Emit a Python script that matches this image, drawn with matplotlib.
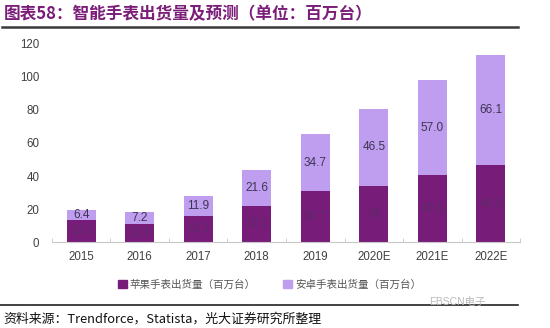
import matplotlib
matplotlib.use("Agg")
import matplotlib.pyplot as plt
from matplotlib.lines import Line2D
from matplotlib.patches import Patch

plt.rcParams['font.family'] = ['Liberation Sans', 'Noto Sans CJK SC', 'DejaVu Sans']

years = ["2015", "2016", "2017", "2018", "2019", "2020E", "2021E", "2022E"]
apple = [13.3, 11.0, 16.1, 22.1, 30.7, 34.0, 40.6, 46.6]
android = [6.4, 7.2, 11.9, 21.6, 34.7, 46.5, 57.0, 66.1]
apple_labels = ["13.3", "11.0", "16.1", "22.1", "30.7", "34", "40.6", "46.6"]
android_labels = ["6.4", "7.2", "11.9", "21.6", "34.7", "46.5", "57.0", "66.1"]
yticks = [0, 20, 40, 60, 80, 100, 120]

c_apple = "#771C79"
c_android = "#BF9EF0"

fig = plt.figure(figsize=(5.5, 3.28), dpi=100)
ax = fig.add_axes([0.0945, 0.261, 0.851, 0.607])

x = list(range(len(years)))
ax.bar(x, apple, width=0.5, color=c_apple, zorder=2)
ax.bar(x, android, width=0.5, bottom=apple, color=c_android, zorder=2)

for i in x:
    ax.text(i, apple[i] / 2, apple_labels[i], ha='center', va='center',
            fontsize=8.5, color="#5E2A68", zorder=3)
    ax.text(i, apple[i] + android[i] / 2, android_labels[i], ha='center', va='center',
            fontsize=8.5, color="#3D3452", zorder=3)

ax.set_xlim(-0.5, len(years) - 0.5)
ax.set_ylim(0, 120)
ax.set_yticks(yticks)
ax.set_yticklabels([str(v) for v in yticks], fontsize=8.3, color="#404040")
ax.set_xticks(x)
ax.set_xticklabels(years, fontsize=8.3, color="#404040")
ax.tick_params(axis='y', length=0, pad=9)
ax.tick_params(axis='x', length=0, pad=6)
ax.set_xticks([i + 0.5 for i in range(-1, len(years))], minor=True)
ax.tick_params(axis='x', which='minor', length=3, color="#C8C8C8", direction='in')
for s in ['top', 'right', 'left']:
    ax.spines[s].set_visible(False)
ax.spines['bottom'].set_color("#C8C8C8")
ax.spines['bottom'].set_linewidth(0.8)

# Title
fig.text(0.006, 0.957, "图表58：智能手表出货量及预测（单位：百万台）",
         family=['Noto Sans CJK SC', 'DejaVu Sans'], fontsize=12,
         fontweight='heavy', color="#7B1E7A", ha='left', va='center')
fig.add_artist(Line2D([0.004, 0.942], [0.918, 0.918], color="#3A3A3A", linewidth=1.8))

# Legend
handles = [Patch(color=c_apple, label="苹果手表出货量（百万台）"),
           Patch(color=c_android, label="安卓手表出货量（百万台）")]
leg = fig.legend(handles=handles, loc='center', bbox_to_anchor=(0.49, 0.132), ncol=2,
                 frameon=False, prop={'family': ['Noto Sans CJK SC', 'DejaVu Sans'], 'size': 7.6},
                 handlelength=0.8, handleheight=0.8, handletextpad=0.3, columnspacing=2.6)
for t in leg.get_texts():
    t.set_color("#555555")

# Bottom line and source
fig.add_artist(Line2D([0.0, 0.942], [0.07, 0.07], color="#222222", linewidth=1.2))
fig.text(0.78, 0.078, "EBSCN电子", family=['Liberation Sans', 'Noto Sans CJK SC'],
         fontsize=7.5, color="#BBBBBB", ha='left', va='center')
fig.text(0.006, 0.028, "资料来源：Trendforce，Statista，光大证券研究所整理",
         family=['Noto Sans CJK SC', 'DejaVu Sans'], fontsize=9.3, color="#111111",
         ha='left', va='center')

fig.savefig("out.png", dpi=100)
